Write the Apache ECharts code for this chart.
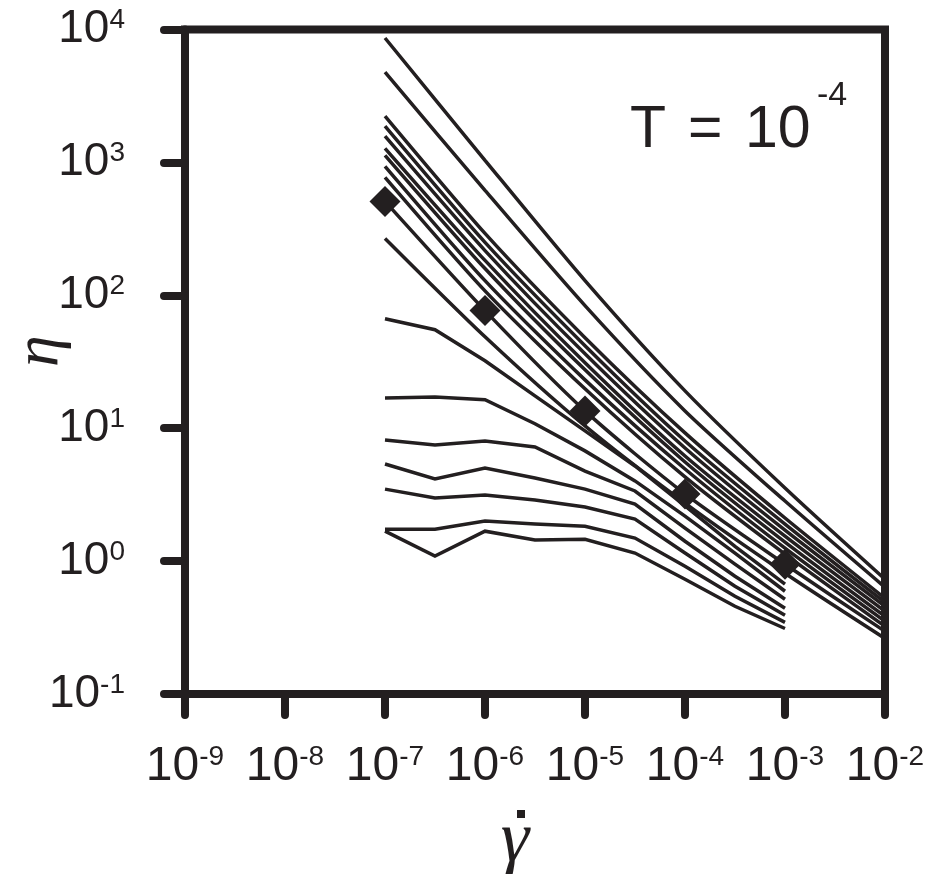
<!DOCTYPE html>
<html>
<head>
<meta charset="utf-8">
<script src="https://cdn.jsdelivr.net/npm/echarts@6/dist/echarts.min.js"></script>
<style>
  html, body { margin: 0; padding: 0; background: #fff; }
  #chart { width: 950px; height: 874px; }
</style>
</head>
<body>
<div id="chart"></div>
<script>
// Shear rates (decade grid for the dense curves, half-decade grid for the dilute ones)
const rateDecades = [1e-7, 1e-6, 1e-5, 1e-4, 1e-3, 1e-2];
const rateHalfDecades = [1e-7, 3.16e-7, 1e-6, 3.16e-6, 1e-5, 3.16e-5, 1e-4, 3.16e-4, 1e-3];

// Viscosity curves reaching 1e-2 (top to bottom at the lowest rate)
const etaDense1 = [8630, 1037, 129, 19.1, 3.55, 0.731];
const etaDense2 = [4780, 616, 83.6, 13.5, 2.83, 0.635];
const etaDense3 = [2228, 292, 48.0, 9.22, 2.11, 0.525];
const etaDense4 = [1872, 250, 41.8, 8.02, 1.90, 0.490];
const etaDense5 = [1574, 217, 36.3, 7.10, 1.71, 0.457];
const etaDense6 = [1277, 183, 31.1, 6.18, 1.54, 0.419];
const etaDense7 = [1131, 159, 27.5, 5.57, 1.39, 0.384];
const etaDense8 = [935, 129, 23.1, 4.93, 1.25, 0.352];
const etaDense9 = [772, 108, 19.8, 4.30, 1.13, 0.323];
const etaDense10 = [509, 76.7, 13.5, 3.20, 0.948, 0.296];
const etaDense11 = [268, 48.8, 10.4, 2.73, 0.811, 0.262];

// Viscosity curves stopping at 1e-3
const etaDilute1 = [66.7, 55.1, 32.2, 17.5, 9.55, 5.20, 2.60, 1.29, 0.670];
const etaDilute2 = [16.9, 17.2, 16.4, 10.8, 6.75, 4.01, 2.18, 1.15, 0.593];
const etaDilute3 = [8.16, 7.48, 8.02, 7.22, 4.76, 3.37, 1.77, 0.948, 0.516];
const etaDilute4 = [5.38, 4.15, 5.02, 4.22, 3.48, 2.69, 1.41, 0.769, 0.442];
const etaDilute5 = [3.48, 2.98, 3.14, 2.88, 2.55, 2.07, 1.15, 0.647, 0.391];
const etaDilute6 = [1.74, 1.74, 2.00, 1.90, 1.83, 1.49, 0.916, 0.543, 0.346];
const etaDilute7 = [1.68, 1.09, 1.68, 1.44, 1.46, 1.15, 0.731, 0.457, 0.311];

// Marked points
const markerRates = [1e-7, 1e-6, 1e-5, 1e-4, 1e-3];
const markerEta = [509, 76.7, 13.5, 3.20, 0.948];

// Tick exponents
const xExponents = [-9, -8, -7, -6, -5, -4, -3, -2];
const yExponents = [-1, 0, 1, 2, 3, 4];

const ink = '#231f20';
const sans = '"Liberation Sans", Arial, Helvetica, sans-serif';
const serif = '"Liberation Serif", "Times New Roman", serif';

const denseCurves = [etaDense1, etaDense2, etaDense3, etaDense4, etaDense5, etaDense6,
  etaDense7, etaDense8, etaDense9, etaDense10, etaDense11];
const diluteCurves = [etaDilute1, etaDilute2, etaDilute3, etaDilute4, etaDilute5,
  etaDilute6, etaDilute7];

function pairs(xs, ys) { return xs.map((x, i) => [x, ys[i]]); }

const series = [];
denseCurves.forEach((c, k) => series.push({
  name: 'dense' + (k + 1), type: 'line', data: pairs(rateDecades, c),
  showSymbol: false, smooth: 0.25, lineStyle: { color: ink, width: 3.5 }, z: 3
}));
diluteCurves.forEach((c, k) => series.push({
  name: 'dilute' + (k + 1), type: 'line', data: pairs(rateHalfDecades, c),
  showSymbol: false, smooth: false, lineStyle: { color: ink, width: 3.5, join: 'miter' }, z: 3
}));
series.push({
  name: 'markers', type: 'scatter', data: pairs(markerRates, markerEta),
  symbol: 'diamond', symbolSize: 31, itemStyle: { color: ink, opacity: 1 }, z: 5
});

function expOf(v) { return Math.round(Math.log10(v)); }

const xLabels = {};
xExponents.forEach(e => { xLabels[e] = '{b|10}{e|' + e + '}'; });
const yLabels = {};
yExponents.forEach(e => { yLabels[e] = '{b|10}{e|' + e + '}'; });

const chart = echarts.init(document.getElementById('chart'), null, { renderer: 'canvas' });
chart.setOption({
  animation: false,
  backgroundColor: '#ffffff',
  grid: {
    left: 185, right: 65, top: 29.5, bottom: 180,
    show: true, borderColor: ink, borderWidth: 8, backgroundColor: 'transparent'
  },
  xAxis: {
    type: 'log', logBase: 10, min: 1e-9, max: 1e-2,
    axisLine: { lineStyle: { color: ink, width: 8 } },
    axisTick: { show: true, inside: false, length: 21, lineStyle: { color: ink, width: 8, cap: 'round' } },
    splitLine: { show: false },
    minorTick: { show: false },
    axisLabel: {
      margin: 49, color: ink,
      formatter: v => xLabels[expOf(v)] || '',
      rich: {
        b: { fontFamily: sans, fontSize: 48, color: ink, lineHeight: 48 },
        e: { fontFamily: sans, fontSize: 28, color: ink, verticalAlign: 'top', lineHeight: 28 }
      }
    }
  },
  yAxis: {
    type: 'log', logBase: 10, min: 0.1, max: 1e4,
    axisLine: { lineStyle: { color: ink, width: 8 } },
    axisTick: { show: true, inside: false, length: 21, lineStyle: { color: ink, width: 8, cap: 'round' } },
    splitLine: { show: false },
    minorTick: { show: false },
    axisLabel: {
      margin: 60, color: ink,
      formatter: v => yLabels[expOf(v)] || '',
      rich: {
        b: { fontFamily: sans, fontSize: 46, color: ink, lineHeight: 46 },
        e: { fontFamily: sans, fontSize: 28, color: ink, verticalAlign: 'top', lineHeight: 24 }
      }
    }
  },
  graphic: [
    { type: 'text', left: 630, top: 101, style: { text: 'T', font: '59px ' + sans, fill: ink } },
    { type: 'text', left: 688, top: 101, style: { text: '=', font: '59px ' + sans, fill: ink } },
    { type: 'text', left: 745, top: 101, style: { text: '10', font: '59px ' + sans, fill: ink } },
    { type: 'text', left: 817, top: 79, style: { text: '-4', font: '34px ' + sans, fill: ink } },
    {
      type: 'text', x: 40, y: 351, rotation: Math.PI / 2,
      style: { text: 'η', font: 'italic 64px ' + serif, fill: ink, textAlign: 'center', textVerticalAlign: 'middle' }
    },
    {
      type: 'text', x: 515, y: 842,
      style: { text: 'γ', font: 'italic 72px ' + serif, fill: ink, textAlign: 'center', textVerticalAlign: 'middle' }
    },
    { type: 'rect', shape: { x: 517, y: 810, width: 8, height: 8 }, style: { fill: ink } }
  ],
  series: series
});
</script>
</body>
</html>
